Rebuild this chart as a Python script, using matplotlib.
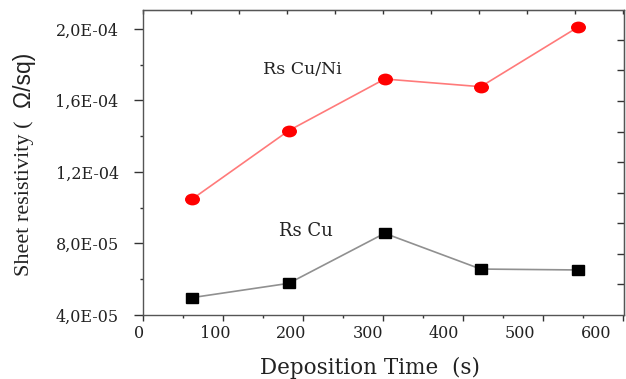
import matplotlib
matplotlib.use("Agg")
import numpy as np
import matplotlib.pyplot as plt
from matplotlib.ticker import MultipleLocator, FixedLocator
from matplotlib.markers import MarkerStyle
from matplotlib.transforms import Affine2D, ScaledTranslation

# Data
time_s = [61, 182, 302, 422, 543]
rs_cuni = [1.047e-4, 1.431e-4, 1.720e-4, 1.677e-4, 2.009e-4]
rs_cu = [4.97e-5, 5.77e-5, 8.57e-5, 6.57e-5, 6.52e-5]
ytick_vals = [4.0e-5, 8.0e-5, 1.2e-4, 1.6e-4, 2.0e-4]
ytick_labels = ["4,0E-05", "8,0E-05", "1,2E-04", "1,6E-04", "2,0E-04"]
xtick_vals = [0, 100, 200, 300, 400, 500, 600]

wide = "DejaVu Serif"
serif = "Liberation Serif"
txt = "#222222"
W, H = 626, 379
fig = plt.figure(figsize=(W / 100, H / 100), dpi=100)
ax = fig.add_axes([143 / W, 1 - 315 / H, (624 - 143) / W, (315 - 10) / H])

circ = MarkerStyle("o", transform=Affine2D().scale(1.3, 1.0))
sq = MarkerStyle("s", transform=Affine2D().scale(1.38, 1.0))
ax.plot(time_s, rs_cuni, color="#ff7a7a", lw=1.2, zorder=2)
ax.plot(time_s, rs_cuni, ls="none", marker=circ, color="#ff0000", ms=7.5, mec="#ff0000", zorder=3)
ax.plot(time_s, rs_cu, color="#909090", lw=1.2, zorder=2)
ax.plot(time_s, rs_cu, ls="none", marker=sq, color="#000000", ms=6.5, zorder=3)

ax.set_xlim(0, 601)
ax.set_ylim(4.0e-5, 2.106e-4)
ax.set_xticks(xtick_vals)
ax.set_xticklabels([str(v) for v in xtick_vals], fontfamily=wide, fontsize=11.5, color=txt)
ax.set_yticks(ytick_vals)
ax.set_yticklabels(ytick_labels, fontfamily=wide, fontsize=11.5, color=txt)
ax.xaxis.set_minor_locator(MultipleLocator(50))
ax.yaxis.set_minor_locator(MultipleLocator(2.0e-5))

ax.tick_params(axis="x", which="major", direction="out", length=4, width=1, color="#333333", pad=3)
ax.tick_params(axis="x", which="minor", direction="out", length=2, width=1, color="#333333")
ax.tick_params(axis="y", which="major", direction="out", length=6.5, width=1, color="#333333", pad=11)
ax.tick_params(axis="y", which="minor", direction="out", length=2, width=1, color="#333333")
for sp in ax.spines.values():
    sp.set_color("#555555")
    sp.set_linewidth(1)

# shift x tick labels slightly left (as in the reference)
for v, lab in zip(xtick_vals, ax.get_xticklabels()):
    dx = -(4 + 23 * v / 600) / 100
    lab.set_transform(lab.get_transform() + ScaledTranslation(dx, 0, fig.dpi_scale_trans))

# inward ticks on top and right
axt = ax.secondary_xaxis("top")
axt.xaxis.set_major_locator(MultipleLocator(60))
axt.tick_params(which="major", direction="in", labeltop=False, color="#333333", length=3, width=1)
axr = ax.secondary_yaxis("right")
axr.yaxis.set_major_locator(FixedLocator(np.arange(4.0e-5 + 1.71e-5, 2.1e-4, 1.71e-5)))
axr.tick_params(which="major", direction="in", labelright=False, color="#333333", length=5, width=1)

ax.text(199, 1.771e-4, "Rs Cu/Ni", fontfamily=wide, fontsize=12.5, ha="center", va="center", color=txt)
ax.text(203, 8.70e-5, "Rs Cu", fontfamily=wide, fontsize=13, ha="center", va="center", color=txt)

fig.text(370 / W, 1 - 368 / H, "Deposition Time  (s)", fontfamily=wide, fontsize=15.5,
         ha="center", va="center", color=txt)
fig.text(24 / W, 1 - 121 / H, "Sheet resistivity (", fontfamily=serif, fontsize=16,
         rotation=90, ha="center", va="top", color=txt)
fig.text(24 / W, 1 - 107 / H, "Ω/sq)", fontfamily="Liberation Sans", fontsize=16.5,
         rotation=90, ha="center", va="bottom", color=txt)

fig.savefig("out.png", dpi=100)
